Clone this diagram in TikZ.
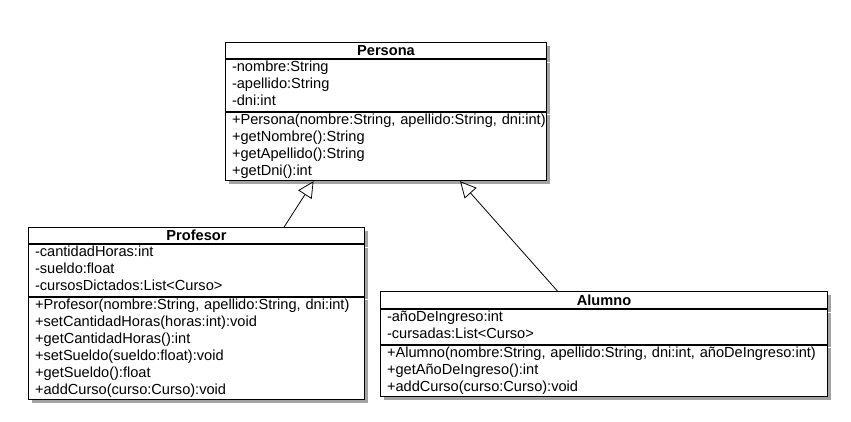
\documentclass[tikz,border=0pt]{standalone}
\usepackage{fontspec}
\setmainfont{Liberation Sans}
\usetikzlibrary{arrows.meta,calc,shadows}

\tikzset{
    umlshadow/.style={drop shadow={shadow xshift=3pt, shadow yshift=-3pt, fill=black!60, opacity=0.6}},
    umltitle/.style={draw, line width=1pt, fill=white, anchor=north west, inner sep=0pt, minimum height=16pt, font=\fontsize{14.6}{17}\selectfont\bfseries, umlshadow},
    umlpart/.style={draw, line width=1pt, fill=white, anchor=north west, align=left, inner xsep=6.5pt, inner ysep=0.3pt, font=\fontsize{14.6}{17}\selectfont, execute at begin node=\strut, execute at end node=\strut, umlshadow},
    inherit/.style={line width=0.8pt, -{Triangle[open, length=16pt, width=16pt]}}
}

\begin{document}
\begin{tikzpicture}[x=1pt, y=-1pt]
    \useasboundingbox (0,0) rectangle (851,421);
    % Persona
    \node[umltitle, minimum width=321pt] (personatitle) at (225,42) {Persona};
    \node[umlpart, text width=308pt] (personaattr) at (personatitle.south west) {-nombre:String\\-apellido:String\\-dni:int};
    \node[umlpart, text width=308pt] (personamethods) at (personaattr.south west) {\mbox{+Persona(nombre:String, apellido:String, dni:int)}\\+getNombre():String\\+getApellido():String\\+getDni():int};
    % Profesor
    \node[umltitle, minimum width=336pt] (profesortitle) at (28,227) {Profesor};
    \node[umlpart, text width=323pt] (profesorattr) at (profesortitle.south west) {-cantidadHoras:int\\-sueldo:float\\-cursosDictados:List<Curso>};
    \node[umlpart, text width=323pt] (profesormethods) at (profesorattr.south west) {\mbox{+Profesor(nombre:String, apellido:String, dni:int)}\\+setCantidadHoras(horas:int):void\\+getCantidadHoras():int\\+setSueldo(sueldo:float):void\\+getSueldo():float\\+addCurso(curso:Curso):void};
    % Alumno
    \node[umltitle, minimum width=447pt, minimum height=17pt] (alumnotitle) at (380,291) {Alumno};
    \node[umlpart, text width=434pt] (alumnoattr) at (alumnotitle.south west) {-añoDeIngreso:int\\-cursadas:List<Curso>};
    \node[umlpart, text width=434pt] (alumnomethods) at (alumnoattr.south west) {\mbox{+Alumno(nombre:String, apellido:String, dni:int, añoDeIngreso:int)}\\+getAñoDeIngreso():int\\+addCurso(curso:Curso):void};

    \draw[inherit] ($(profesortitle.north west)!0.76!(profesortitle.north east)$) -- ($(personamethods.south west)!0.275!(personamethods.south east)$);
    \draw[inherit] ($(alumnotitle.north west)!0.396!(alumnotitle.north east)$) -- ($(personamethods.south west)!0.73!(personamethods.south east)$);
\end{tikzpicture}
\end{document}
